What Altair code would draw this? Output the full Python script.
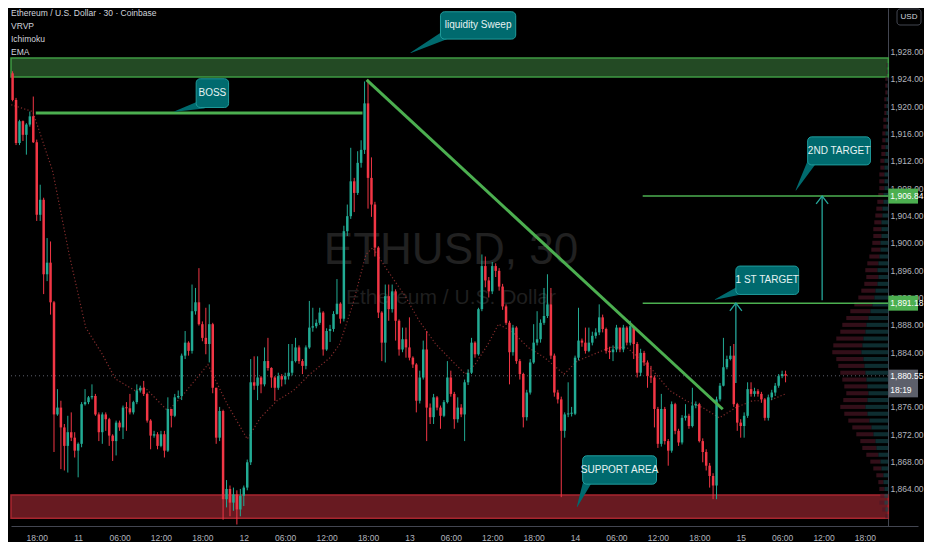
import altair as alt
import pandas as pd
import numpy as np

FONT = "Liberation Sans, Arial, sans-serif"
UP = "#22ab94"
DOWN = "#f23645"
GREEN = "#4caf50"
CALL_FILL = "#006a6e"
CALL_STROKE = "#1f9c9c"
ARROW = "#26a69a"
AXIS_TXT = "#b2b5be"

# ---- candles: 30-minute bars, time in hours from 10th 18:00 ----
t_start = -4.5
step = 0.5
first_open = 1923.8
close = [
    1926.5, 1924.8, 1920.9, 1914.6, 1917.8, 1915.8, 1917.3, 1918.5, 1914.7, 1904.1,
    1906.3, 1895.4, 1897.1, 1891.3, 1874.9, 1875.9, 1873.0, 1870.3, 1872.3, 1871.5,
    1869.6, 1870.6, 1876.4, 1876.7, 1877.4, 1877.6, 1874.9, 1872.3, 1874.9, 1874.2,
    1871.8, 1871.0, 1873.7, 1873.0, 1875.9, 1875.8, 1875.2, 1876.7, 1878.4, 1878.8,
    1877.9, 1874.0, 1871.8, 1872.0, 1870.3, 1872.0, 1869.6, 1875.7, 1874.7, 1877.4,
    1877.6, 1883.5, 1885.4, 1884.2, 1890.0, 1891.3, 1888.1, 1886.1, 1885.2, 1888.1,
    1878.8, 1871.5, 1875.4, 1862.5, 1864.0, 1862.0, 1863.2, 1861.0, 1863.0, 1864.2,
    1867.9, 1879.6, 1879.1, 1880.3, 1879.3, 1882.7, 1881.7, 1880.3, 1878.8, 1880.5,
    1880.0, 1880.5, 1881.0, 1882.7, 1884.7, 1882.7, 1882.0, 1884.7, 1887.6, 1887.8,
    1888.3, 1889.8, 1884.4, 1887.1, 1887.4, 1889.6, 1891.1, 1888.9, 1901.7, 1903.9,
    1909.0, 1907.3, 1911.7, 1913.6, 1920.4, 1909.5, 1905.6, 1899.3, 1889.8, 1885.4,
    1892.2, 1890.3, 1892.9, 1888.6, 1884.4, 1885.9, 1884.7, 1883.2, 1882.2, 1876.9,
    1880.3, 1884.4, 1875.9, 1874.5, 1877.4, 1875.9, 1874.7, 1876.7, 1880.3, 1877.9,
    1874.2, 1875.9, 1874.9, 1879.6, 1881.0, 1885.4, 1883.7, 1890.3, 1896.6, 1894.5,
    1892.9, 1896.6, 1895.9, 1893.6, 1890.7, 1888.3, 1884.0, 1887.6, 1882.7, 1880.8,
    1874.5, 1878.1, 1882.5, 1885.4, 1885.9, 1888.3, 1889.3, 1891.0, 1883.5, 1878.1,
    1877.1, 1872.5, 1874.9, 1875.0, 1875.0, 1883.2, 1885.7, 1885.4, 1884.2, 1885.4,
    1886.4, 1886.9, 1889.1, 1887.4, 1884.2, 1884.0, 1884.4, 1887.6, 1884.4, 1887.6,
    1885.4, 1887.8, 1885.2, 1881.0, 1883.9, 1882.5, 1880.5, 1880.3, 1875.7, 1870.6,
    1875.7, 1871.0, 1869.6, 1876.4, 1872.5, 1870.8, 1874.4, 1874.7, 1873.2, 1876.2,
    1876.4, 1871.0, 1869.4, 1867.4, 1865.9, 1864.5, 1877.1, 1879.1, 1881.8, 1883.0,
    1883.5, 1876.4, 1873.7, 1873.2, 1874.7, 1878.6, 1877.9, 1878.3, 1877.9, 1877.1,
    1874.4, 1877.4, 1878.1, 1879.1, 1880.5, 1880.8, 1880.55,
]
high = [
    1927.5, 1926.8, 1925.1, 1921.2, 1918.0, 1917.9, 1917.5, 1919.2, 1921.4, 1915.1,
    1908.5, 1906.6, 1900.7, 1900.2, 1891.5, 1878.6, 1876.9, 1873.5, 1874.7, 1875.2,
    1872.3, 1870.8, 1876.7, 1878.6, 1877.6, 1879.3, 1877.9, 1875.2, 1875.2, 1875.2,
    1874.4, 1872.0, 1874.0, 1874.0, 1876.2, 1876.7, 1877.9, 1876.9, 1879.3, 1879.1,
    1879.8, 1878.1, 1874.2, 1872.5, 1872.3, 1872.5, 1872.5, 1877.4, 1875.7, 1877.9,
    1878.4, 1883.8, 1887.1, 1885.6, 1893.9, 1893.4, 1896.3, 1888.5, 1890.5, 1891.0,
    1888.3, 1878.8, 1876.0, 1875.6, 1865.3, 1864.5, 1864.2, 1863.8, 1864.0, 1864.5,
    1868.3, 1883.0, 1883.4, 1883.4, 1880.5, 1884.7, 1886.1, 1881.8, 1880.5, 1881.0,
    1880.8, 1881.0, 1885.2, 1885.2, 1886.1, 1885.0, 1883.0, 1885.0, 1891.5, 1890.5,
    1888.8, 1890.5, 1890.0, 1887.5, 1888.0, 1890.0, 1894.7, 1891.3, 1902.5, 1905.6,
    1913.9, 1909.5, 1913.4, 1915.0, 1923.6, 1923.9, 1912.5, 1906.0, 1899.5, 1890.0,
    1893.9, 1893.9, 1893.9, 1893.2, 1888.8, 1887.6, 1887.6, 1889.1, 1883.4, 1882.4,
    1881.3, 1885.7, 1887.1, 1876.5, 1877.9, 1877.6, 1876.2, 1877.0, 1882.7, 1881.3,
    1878.2, 1877.4, 1876.4, 1880.0, 1881.5, 1886.1, 1885.6, 1890.5, 1898.3, 1898.0,
    1895.0, 1897.2, 1897.0, 1896.3, 1894.0, 1891.0, 1888.6, 1888.0, 1887.8, 1883.0,
    1881.0, 1878.5, 1883.0, 1888.1, 1890.0, 1888.8, 1893.4, 1895.4, 1893.4, 1883.8,
    1878.5, 1877.5, 1875.2, 1879.6, 1876.0, 1883.5, 1890.5, 1886.0, 1887.6, 1887.6,
    1887.0, 1887.5, 1891.0, 1889.5, 1887.6, 1884.8, 1885.0, 1888.0, 1887.2, 1888.0,
    1887.8, 1888.6, 1887.6, 1885.5, 1884.5, 1884.2, 1882.8, 1882.0, 1880.6, 1876.0,
    1877.9, 1876.0, 1871.3, 1876.8, 1876.6, 1872.8, 1874.8, 1876.4, 1875.0, 1878.8,
    1876.8, 1876.6, 1871.4, 1869.8, 1867.8, 1866.3, 1877.5, 1879.5, 1886.1, 1883.5,
    1884.9, 1885.2, 1876.6, 1874.2, 1875.2, 1879.6, 1879.6, 1878.8, 1878.6, 1878.2,
    1877.3, 1877.8, 1878.5, 1879.5, 1880.8, 1881.3, 1881.3,
]
low = [
    1923.6, 1921.7, 1920.7, 1914.3, 1914.3, 1914.9, 1912.9, 1917.0, 1914.6, 1903.2,
    1903.2, 1892.5, 1894.4, 1889.5, 1869.4, 1874.7, 1866.9, 1866.7, 1866.4, 1871.0,
    1868.6, 1865.7, 1870.1, 1876.2, 1876.4, 1877.1, 1874.7, 1871.0, 1870.6, 1872.5,
    1870.3, 1868.1, 1868.9, 1872.5, 1871.3, 1872.5, 1874.9, 1874.9, 1876.4, 1878.1,
    1877.6, 1873.7, 1869.8, 1871.5, 1869.8, 1870.1, 1868.6, 1869.4, 1873.0, 1874.5,
    1877.2, 1877.0, 1883.0, 1883.5, 1883.8, 1889.5, 1887.9, 1885.6, 1883.7, 1882.5,
    1878.0, 1870.6, 1871.0, 1859.5, 1861.3, 1860.0, 1860.8, 1858.8, 1860.0, 1861.5,
    1863.8, 1867.5, 1878.5, 1877.0, 1878.0, 1879.0, 1881.3, 1878.8, 1876.9, 1878.5,
    1879.0, 1879.3, 1880.0, 1880.6, 1882.5, 1882.3, 1880.8, 1881.5, 1884.5, 1887.0,
    1887.5, 1888.0, 1883.5, 1884.2, 1885.5, 1887.0, 1889.5, 1888.2, 1888.5, 1901.0,
    1903.5, 1904.5, 1907.0, 1911.0, 1913.0, 1905.0, 1903.8, 1898.0, 1889.0, 1882.7,
    1882.5, 1888.6, 1889.8, 1885.7, 1883.5, 1884.0, 1883.2, 1882.8, 1881.7, 1875.2,
    1876.5, 1880.0, 1871.0, 1873.5, 1873.5, 1875.5, 1872.8, 1874.5, 1876.5, 1877.5,
    1872.8, 1873.7, 1874.5, 1871.0, 1879.2, 1880.8, 1883.2, 1883.5, 1890.0, 1893.5,
    1892.0, 1892.5, 1895.0, 1893.0, 1890.2, 1888.0, 1879.3, 1883.5, 1882.3, 1880.0,
    1873.0, 1874.0, 1877.8, 1882.3, 1885.0, 1885.4, 1888.0, 1889.0, 1883.0, 1877.5,
    1876.5, 1862.8, 1871.5, 1874.5, 1874.6, 1874.8, 1882.8, 1884.8, 1883.8, 1884.0,
    1885.0, 1886.0, 1886.5, 1886.9, 1883.8, 1883.0, 1882.7, 1884.0, 1884.0, 1884.0,
    1885.0, 1885.0, 1883.0, 1880.3, 1880.5, 1882.0, 1878.8, 1879.5, 1873.0, 1870.0,
    1870.2, 1870.5, 1867.4, 1869.3, 1872.0, 1870.3, 1870.5, 1874.0, 1872.8, 1873.0,
    1875.8, 1870.8, 1867.9, 1866.7, 1864.2, 1862.5, 1862.5, 1876.8, 1879.0, 1881.5,
    1882.8, 1876.0, 1872.5, 1871.5, 1871.5, 1874.4, 1877.5, 1877.5, 1877.5, 1876.6,
    1874.0, 1874.0, 1877.0, 1877.6, 1878.8, 1880.2, 1879.6,
]

# EMA
ema_t = [-3.7, -0.57, 2.3, 4.7, 7.1, 9.5, 11.4, 14.2, 15.7, 19.0, 20.9, 24.8, 27.6, 30.5,
         32.4, 34.8, 37.2, 39.6, 42.5, 43.9, 45.8, 47.7, 48.7, 50.6, 53.5, 55.4, 57.8,
         60.2, 62.1, 63.5, 65.4, 66.9, 68.8, 71.2, 73.6, 76.4, 78.3, 80.7, 83.1, 85.5,
         89.3, 91.7, 94.1, 96.5, 98.9, 101.3, 103.7, 106.1, 108.5]
ema_p = [1920.2, 1919.2, 1910.5, 1898.3, 1887.6, 1883.7, 1880.1, 1878.4, 1878.8, 1875.4,
         1877.4, 1882.2, 1876.4, 1871.3, 1874.4, 1876.9, 1878.4, 1880.8, 1883.2, 1885.2,
         1891.0, 1898.3, 1899.3, 1896.3, 1892.0, 1888.6, 1885.2, 1882.7, 1880.8, 1882.2,
         1885.2, 1888.1, 1887.1, 1884.7, 1883.2, 1880.8, 1882.7, 1883.7, 1884.7, 1884.7,
         1881.3, 1878.4, 1876.9, 1875.9, 1874.4, 1875.9, 1876.9, 1876.9, 1877.9]

# Volume profile (visible range), rows of 1 USD, relative volume
vp_price = list(range(1860, 1927))
vp_up = [1, 3, 4, 4, 4, 5, 5, 7, 8, 10,
         12, 13, 15, 17, 19, 21, 23, 21, 20, 21,
         22, 23, 24, 25, 27, 26, 25, 23, 22, 20,
         18, 16, 14, 13, 11, 10, 11, 10, 9, 8,
         8, 7, 7, 7, 6, 6, 5, 5, 4, 4,
         4, 4, 4, 3, 3, 3, 3, 2, 2, 2,
         2, 2, 1, 1, 1, 1, 1]
vp_down = [2, 3, 5, 4, 5, 5, 7, 8, 10, 12,
           14, 15, 17, 19, 21, 23, 25, 24, 22, 23,
           24, 25, 26, 27, 29, 29, 27, 25, 24, 22,
           20, 18, 16, 14, 13, 12, 12, 11, 10, 9,
           8, 8, 8, 7, 7, 6, 6, 5, 5, 5,
           5, 4, 4, 4, 4, 3, 3, 3, 3, 2,
           2, 2, 2, 2, 2, 1, 1]

# zones
green_zone = [1924.25, 1927.05]
red_zone = [1859.7, 1863.1]
left_t = -3.73      # left edge of the pane (hours)
axis_t = 123.39     # price-scale edge (hours)
right_t = 127.69    # right edge of the picture (hours)

# drawn lines
boss_line = {"t1": -0.14, "p1": 1919.0, "t2": 47.2, "p2": 1919.0}
trend_line = {"t1": 47.8, "p1": 1923.84, "t2": 99.4, "p2": 1875.66}
target_levels = [1906.84, 1891.18]
target_start = 87.8
last_price = 1880.55
countdown = "18:19"

arrow_t = [101.3, 113.8]
arrow_from = [1879.5, 1891.6]
arrow_to = [1891.18, 1906.84]

# callouts
call_text = ["liquidity Sweep", "BOSS", "2ND TARGET", "1 ST TARGET", "SUPPORT AREA"]
call_t1 = [58.5, 23.1, 111.7, 101.3, 79.1]
call_t2 = [69.4, 27.8, 120.8, 110.4, 89.8]
call_ptop = [1933.8, 1924.0, 1915.5, 1896.6, 1868.85]
call_pbot = [1929.8, 1919.8, 1911.4, 1892.45, 1864.7]
tail_base_t = [59.2, 24.1, 112.4, 102.0, 79.9]
tail_base_p = [1930.4, 1920.3, 1912.0, 1893.1, 1865.3]
tail_tip_t = [54.2, 20.0, 110.0, 98.3, 78.3]
tail_tip_p = [1927.8, 1919.2, 1907.7, 1891.7, 1861.4]

# 1,880.00 sits under the last-price label in the reference, so it is not shown
y_ticks = [1864, 1868, 1872, 1876, 1884, 1888, 1892, 1896, 1900, 1904, 1908,
           1912, 1916, 1920, 1924, 1928]
x_tick_hours = [0, 6, 12, 18, 24, 30, 36, 42, 48, 54, 60, 66, 72, 78, 84, 90, 96, 102,
                108, 114, 120]
x_labels = ["18:00", "11", "06:00", "12:00", "18:00", "12", "06:00", "12:00", "18:00",
            "13", "06:00", "12:00", "18:00", "14", "06:00", "12:00", "18:00", "15",
            "06:00", "12:00", "18:00"]

header = ["Ethereum / U.S. Dollar · 30 · Coinbase", "VRVP", "Ichimoku", "EMA"]

# ---------------- build tables ----------------
n = min(len(close), len(high), len(low))
df = pd.DataFrame({"t": [t_start + step * i for i in range(n)],
                   "c": close[:n], "h": high[:n], "l": low[:n]})
df["o"] = [first_open] + close[:n - 1]
df["top"] = df[["o", "c"]].max(axis=1)
df["bot"] = df[["o", "c"]].min(axis=1)
df["top"] = np.maximum(df["top"], df["bot"] + 0.15)
df["h"] = np.maximum(df["h"], df["top"])
df["l"] = np.minimum(df["l"], df["bot"])
df["dir"] = np.where(df["c"] >= df["o"], "up", "down")
df["xa"] = df["t"] - 0.18
df["xb"] = df["t"] + 0.18

X_DOM = [left_t, right_t]
Y_DOM = [1858.58, 1934.35]
xs = alt.Scale(domain=X_DOM, nice=False, zero=False)
ys = alt.Scale(domain=Y_DOM, nice=False, zero=False)
cscale = alt.Scale(domain=["up", "down"], range=[UP, DOWN])

label_expr = "[" + ",".join("'" + s + "'" for s in x_labels) + "][round(datum.value/6)]"

x_axis = alt.Axis(values=x_tick_hours, labelExpr=label_expr, title=None, grid=False,
                  ticks=False, domainColor="#434651", labelColor=AXIS_TXT, labelFont=FONT,
                  labelFontSize=8.5, labelPadding=7, labelOverlap=False, labelFlush=False)
y_axis = alt.Axis(orient="right", offset=-30, values=y_ticks, format=",.2f", title=None,
                  grid=False, ticks=False, domainColor="#434651", labelColor=AXIS_TXT,
                  labelFont=FONT, labelFontSize=8.5, labelPadding=2, labelAlign="left")


def X(f, **kw):
    return alt.X(f, scale=xs, axis=x_axis, **kw)


def Y(f, **kw):
    return alt.Y(f, scale=ys, axis=y_axis, **kw)


one = pd.DataFrame({"a": [0]})

# watermark (behind everything)
wm1 = alt.Chart(one).mark_text(text="ETHUSD, 30", font=FONT, fontSize=44, color="#212121",
                               align="center", baseline="alphabetic").encode(
    x=alt.value(440), y=alt.value(256))
wm2 = alt.Chart(one).mark_text(text="Ethereum / U.S. Dollar", font=FONT, fontSize=21,
                               color="#1f1f1f", align="center", baseline="alphabetic").encode(
    x=alt.value(440), y=alt.value(296))

zones_df = pd.DataFrame({"t1": [left_t], "t2": [axis_t],
                         "gp1": [green_zone[0]], "gp2": [green_zone[1]],
                         "rp1": [red_zone[0]], "rp2": [red_zone[1]]})

gz = alt.Chart(zones_df).mark_rect(fill="#234a24", stroke="#3f9a43", strokeWidth=1.5).encode(
    x=X("t1:Q"), x2="t2:Q", y=Y("gp1:Q"), y2="gp2:Q")
rz = alt.Chart(zones_df).mark_rect(fill="#681a21", stroke="#a8262f", strokeWidth=1.5).encode(
    x=X("t1:Q"), x2="t2:Q", y=Y("rp1:Q"), y2="rp2:Q")

# volume profile, anchored to the price scale
VP_HOURS_PER_UNIT = 0.145
vp_df = pd.DataFrame({"p": vp_price, "up": vp_up, "down": vp_down})
vp_df["lo"] = vp_df["p"] - 0.3
vp_df["hi"] = vp_df["p"] + 0.3
vp_df["x0"] = axis_t
vp_df["x1"] = axis_t - vp_df["up"] * VP_HOURS_PER_UNIT
vp_df["x2"] = axis_t - (vp_df["up"] + vp_df["down"]) * VP_HOURS_PER_UNIT
vp_up_l = alt.Chart(vp_df).mark_rect(fill="#15474c", opacity=0.65).encode(
    x=X("x1:Q"), x2="x0:Q", y=Y("lo:Q"), y2="hi:Q")
vp_dn_l = alt.Chart(vp_df).mark_rect(fill="#4f1726", opacity=0.65).encode(
    x=X("x2:Q"), x2="x1:Q", y=Y("lo:Q"), y2="hi:Q")

lp_df = pd.DataFrame({"p": [last_price], "t1": [left_t], "t2": [axis_t]})
cur_line = alt.Chart(lp_df).mark_rule(color="#5d606b", strokeDash=[1, 3], strokeWidth=1).encode(
    x=X("t1:Q"), x2="t2:Q", y=Y("p:Q"))

ema_df = pd.DataFrame({"t": ema_t, "p": ema_p})
ema = alt.Chart(ema_df).mark_line(color="#8e3030", strokeDash=[1.2, 2.2], strokeWidth=1.2,
                                  opacity=0.9).encode(x=X("t:Q"), y=Y("p:Q"))

wicks = alt.Chart(df).mark_rule(strokeWidth=1, clip=True).encode(
    x=X("t:Q"), y=Y("l:Q"), y2="h:Q",
    color=alt.Color("dir:N", scale=cscale, legend=None))
bodies = alt.Chart(df).mark_rect(clip=True).encode(
    x=X("xa:Q"), x2="xb:Q", y=Y("bot:Q"), y2="top:Q",
    color=alt.Color("dir:N", scale=cscale, legend=None))

seg_df = pd.DataFrame([boss_line, trend_line])
segs = alt.Chart(seg_df).mark_rule(color=GREEN, strokeWidth=3).encode(
    x=X("t1:Q"), y=Y("p1:Q"), x2="t2:Q", y2="p2:Q")

lv_df = pd.DataFrame({"p": target_levels, "t1": [target_start] * len(target_levels),
                      "t2": [axis_t] * len(target_levels)})
levels = alt.Chart(lv_df).mark_rule(color=GREEN, strokeWidth=1.5).encode(
    x=X("t1:Q"), x2="t2:Q", y=Y("p:Q"))

ar_df = pd.DataFrame({"t": arrow_t, "p1": arrow_from, "p2": arrow_to})
arrows = alt.Chart(ar_df).mark_rule(color=ARROW, strokeWidth=1.3).encode(
    x=X("t:Q"), y=Y("p1:Q"), y2="p2:Q")
heads = alt.Chart(ar_df).mark_point(shape="M-1,1.3L0,0L1,1.3", filled=False, size=144,
                                    color=ARROW, strokeWidth=1.3, opacity=1).encode(
    x=X("t:Q"), y=Y("p2:Q"))

tail_rows = []
for k in range(len(call_text)):
    tail_rows.append({"id": k, "ord": 0, "t": tail_base_t[k], "p": tail_base_p[k], "w": 9})
    tail_rows.append({"id": k, "ord": 1, "t": tail_tip_t[k], "p": tail_tip_p[k], "w": 0.6})
tails = alt.Chart(pd.DataFrame(tail_rows)).mark_trail(color=CALL_FILL).encode(
    x=X("t:Q"), y=Y("p:Q"), size=alt.Size("w:Q", scale=None, legend=None),
    detail="id:N", order="ord:Q")

call_df = pd.DataFrame({"text": call_text, "t1": call_t1, "t2": call_t2,
                        "p1": call_ptop, "p2": call_pbot})
call_df["tc"] = (call_df["t1"] + call_df["t2"]) / 2
call_df["pc"] = (call_df["p1"] + call_df["p2"]) / 2
boxes = alt.Chart(call_df).mark_rect(fill=CALL_FILL, stroke=CALL_STROKE, strokeWidth=1,
                                     cornerRadius=4).encode(
    x=X("t1:Q"), x2="t2:Q", y=Y("p1:Q"), y2="p2:Q")
box_txt = alt.Chart(call_df).mark_text(font=FONT, fontSize=10, color="#e6f2f2",
                                       baseline="middle", align="center").encode(
    x=X("tc:Q"), y=Y("pc:Q"), text="text:N")

# price-scale labels
pb_df = pd.DataFrame({"p": target_levels})
pb_df["hi"] = pb_df["p"] + 1.1
pb_df["lo"] = pb_df["p"] - 1.1
pb_df["t1"] = axis_t
pb_df["t2"] = right_t
pboxes = alt.Chart(pb_df).mark_rect(fill=GREEN).encode(
    x=X("t1:Q"), x2="t2:Q", y=Y("hi:Q"), y2="lo:Q")
ptxt = alt.Chart(pb_df).mark_text(font=FONT, fontSize=8.5, color="#ffffff", align="left",
                                  baseline="middle", dx=2).encode(
    x=X("t1:Q"), y=Y("p:Q"), text=alt.Text("p:Q", format=",.2f"))

lb_df = pd.DataFrame({"p": [last_price], "hi": [last_price + 0.9], "lo": [last_price - 3.15],
                      "p2": [last_price - 2.05], "cd": [countdown],
                      "t1": [axis_t], "t2": [right_t]})
lbox = alt.Chart(lb_df).mark_rect(fill="#5d606b").encode(
    x=X("t1:Q"), x2="t2:Q", y=Y("hi:Q"), y2="lo:Q")
ltxt = alt.Chart(lb_df).mark_text(font=FONT, fontSize=8.5, color="#ffffff", align="left",
                                  baseline="middle", dx=2).encode(
    x=X("t1:Q"), y=Y("p:Q"), text=alt.Text("p:Q", format=",.2f"))
ltxt2 = alt.Chart(lb_df).mark_text(font=FONT, fontSize=8.5, color="#ffffff", align="left",
                                   baseline="middle", dx=2).encode(
    x=X("t1:Q"), y=Y("p2:Q"), text="cd:N")

header_layers = []
for k, s in enumerate(header):
    header_layers.append(alt.Chart(one).mark_text(
        text=s, font=FONT, fontSize=8.5, color="#d1d4dc",
        align="left", baseline="middle").encode(x=alt.value(0), y=alt.value(5 + 13 * k)))

usd_box = alt.Chart(one).mark_rect(fill="#000000", stroke="#434651", strokeWidth=1,
                                   cornerRadius=3).encode(
    x=alt.value(886), x2=alt.value(910), y=alt.value(1), y2=alt.value(17))
usd_txt = alt.Chart(one).mark_text(text="USD", font=FONT, fontSize=8, color="#d1d4dc",
                                   align="center", baseline="middle").encode(
    x=alt.value(898), y=alt.value(9))

chart = alt.layer(
    gz, wm1, wm2, rz, vp_up_l, vp_dn_l, cur_line, ema, wicks, bodies, segs, levels,
    arrows, heads, tails, boxes, box_txt, pboxes, ptxt, lbox, ltxt, ltxt2,
    *header_layers, usd_box, usd_txt
).properties(
    width=916, height=534, padding=0, background="#000000",
    autosize=alt.AutoSizeParams(type="fit", contains="padding")
).configure_view(stroke=None)

chart.save("out.html", embed_options={"renderer": "svg", "actions": False})
